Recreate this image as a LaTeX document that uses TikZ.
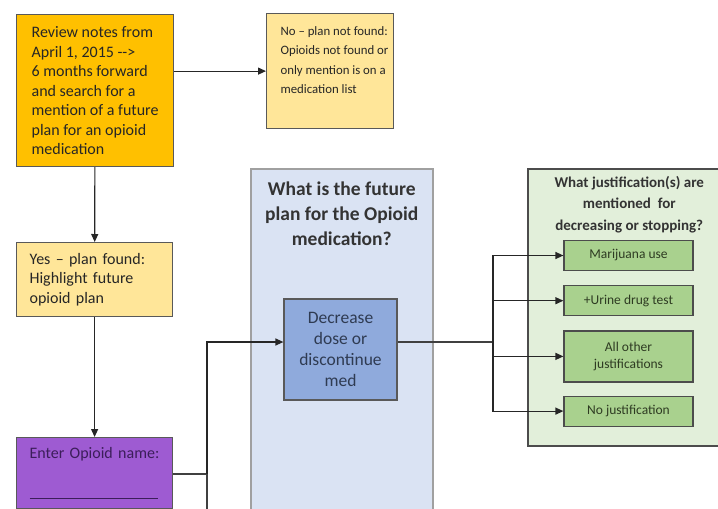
\documentclass[tikz,border=0pt]{standalone}
\usepackage{fontspec}
\setmainfont{Carlito}
\usetikzlibrary{positioning,arrows.meta}

\definecolor{reviewfill}{HTML}{FFC000}
\definecolor{notefill}{HTML}{FFE699}
\definecolor{namefill}{HTML}{9E5BD2}
\definecolor{nametext}{HTML}{3C1E5A}
\definecolor{planfill}{HTML}{DAE3F3}
\definecolor{planline}{HTML}{A0A0A0}
\definecolor{decfill}{HTML}{8FAADC}
\definecolor{dectext}{HTML}{2F3B52}
\definecolor{whyfill}{HTML}{E2EFDA}
\definecolor{jfill}{HTML}{A9D18E}
\definecolor{jtext}{HTML}{2E3B22}

\begin{document}
\begin{tikzpicture}[x=1pt,y=-1pt,
        box/.style={draw=black!65, line width=1.2pt, anchor=north west, align=left,
            inner xsep=13pt, inner ysep=10pt, text=black!85,
            font=\fontsize{16}{19.5}\selectfont},
        panel/.style={line width=1.5pt, anchor=north west},
        ptitle/.style={align=center, inner sep=2pt, text=black!80},
        decbox/.style={draw=black!65, line width=1.2pt, fill=decfill, text=dectext,
            minimum width=113pt, minimum height=101pt, align=center,
            font=\fontsize{17.5}{21}\selectfont},
        jbox/.style={draw=black!70, line width=1.2pt, fill=jfill, text=jtext,
            minimum width=129pt, minimum height=30pt, align=center,
            font=\fontsize{13.5}{17}\selectfont},
        arr/.style={draw=black!85, line width=1.2pt, -{Triangle[length=8pt,width=7pt]}},
        link/.style={draw=black!75, line width=1.2pt}]

    \useasboundingbox (0,0) rectangle (718,509);
    \clip (0,0) rectangle (718,509);

    % left column
    \node[box, fill=reviewfill, minimum width=157pt, minimum height=152pt] (review) at (16,14)
        {Review notes from\\April 1, 2015 {-}{-}>\\6 months forward\\and search for a\\mention of a future\\plan for an opioid\\medication};
    \node[box, fill=notefill, inner xsep=14pt, inner ysep=13pt,
        font=\fontsize{12.8}{19.5}\selectfont] (notfound) at (266,13)
        {\parbox[c][89pt][t]{99pt}{\raggedright \mbox{No – plan not found:}\\\mbox{Opioids not found or}\\\mbox{only mention is on a}\\\mbox{medication list}}};
    \node[box, fill=notefill, text width=130pt, minimum height=74pt] (found) at (16,242)
        {Yes – plan found:\\Highlight future\\opioid plan};
    \node[box, fill=namefill, text=nametext, text width=130pt, text depth=40pt] (name) at (16,437)
        {Enter Opioid name:\\[21pt]\rule{128pt}{0.8pt}};

    % future plan panel
    \node[panel, draw=planline, fill=planfill, minimum width=182pt, minimum height=360pt] (plan) at (250,168) {};
    \node[ptitle, below=12pt of plan.north, font=\bfseries\fontsize{19.5}{25}\selectfont] (plantitle)
        {What is the future\\plan for the Opioid\\medication?};
    \node[decbox] (decrease) at (340.5,349.5) {Decrease\\dose or\\discontinue\\med};

    % justification panel
    \node[panel, draw=black!70, fill=whyfill, minimum width=203pt, minimum height=277pt] (why) at (527,168) {};
    \node[ptitle, below=6pt of why.north, font=\bfseries\fontsize{15}{21.5}\selectfont] (whytitle)
        {What justification(s) are\\mentioned~ for\\decreasing or stopping?};
    \node[jbox] (marijuana) at (628.5,255.5) {Marijuana use};
    \node[jbox, below=14pt of marijuana] (urine) {+Urine drug test};
    \node[jbox, below=14pt of urine, minimum height=51pt] (other) {All other\\justifications};
    \node[jbox, below=13pt of other] (nojust) {No justification};

    % connectors
    \coordinate (split) at (207,474);
    \coordinate (down) at (207,520);
    \coordinate (bus) at (493,342);

    \draw[arr] (review.east |- notfound.west) -- (notfound.west);
    \draw[arr] (review) -- (found);
    \draw[arr] (found) -- (name);
    \draw[link] ([yshift=-37pt]name.north east) -- (split);
    \draw[arr] (split) |- ([yshift=7.5pt]decrease.west);
    \draw[link] (split) -- (down);
    \draw[link] ([yshift=7.5pt]decrease.east) -- (bus);
    \draw[arr] (bus) |- (marijuana.west);
    \draw[arr] (bus) |- (urine.west);
    \draw[arr] (bus) |- (other.west);
    \draw[arr] (bus) |- (nojust.west);
\end{tikzpicture}
\end{document}
